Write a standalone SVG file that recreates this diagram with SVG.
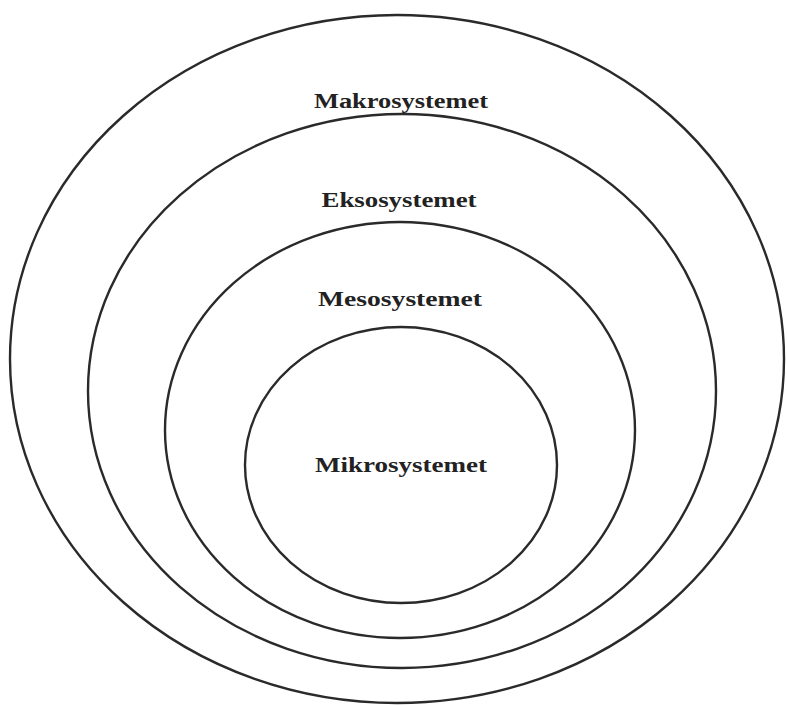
<svg xmlns="http://www.w3.org/2000/svg" width="787" height="705" viewBox="0 0 787 705">
<style>
.ring{fill:none;stroke:#2a2a2a;stroke-width:2.4}
.lbl{font-family:"Liberation Serif","Times New Roman",serif;font-weight:bold;font-size:20px;fill:#222;text-anchor:middle}
</style>
<rect width="787" height="705" fill="#fff"/>
<g id="makro"><ellipse class="ring" cx="397" cy="359" rx="387" ry="344"/><text class="lbl" x="401" y="108" textLength="174" lengthAdjust="spacingAndGlyphs">Makrosystemet</text></g>
<g id="ekso"><ellipse class="ring" cx="402" cy="391" rx="314" ry="277"/><text class="lbl" x="399" y="207" textLength="155" lengthAdjust="spacingAndGlyphs">Eksosystemet</text></g>
<g id="meso"><ellipse class="ring" cx="400" cy="430" rx="235" ry="208"/><text class="lbl" x="400" y="306" textLength="164" lengthAdjust="spacingAndGlyphs">Mesosystemet</text></g>
<g id="mikro"><ellipse class="ring" cx="401" cy="465" rx="156" ry="138"/><text class="lbl" x="401" y="472" textLength="172" lengthAdjust="spacingAndGlyphs">Mikrosystemet</text></g>
</svg>
